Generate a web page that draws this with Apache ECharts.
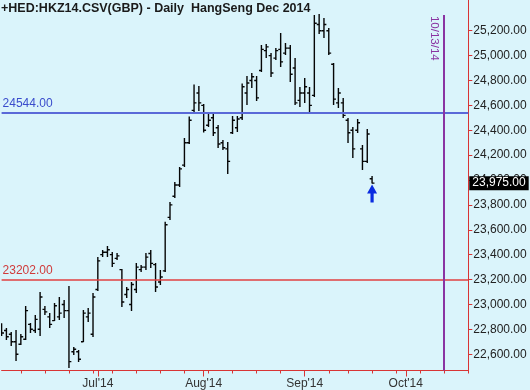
<!DOCTYPE html>
<html>
<head>
<meta charset="utf-8">
<script src="https://cdn.jsdelivr.net/npm/echarts@6.0.0/dist/echarts.min.js"></script>
<style>
  html, body { margin: 0; padding: 0; background: #daf4fb; }
  #c { width: 530px; height: 390px; }
</style>
</head>
<body>
<div id="c"></div>
<script>
// ---- data ----
const titleText = "+HED:HKZ14.CSV(GBP) - Daily  HangSeng Dec 2014";
const dates = [
  '2014-06-03','2014-06-04','2014-06-05','2014-06-06',
  '2014-06-09','2014-06-10','2014-06-11','2014-06-12','2014-06-13',
  '2014-06-16','2014-06-17','2014-06-18','2014-06-19','2014-06-20',
  '2014-06-23','2014-06-24','2014-06-25','2014-06-26','2014-06-27',
  '2014-06-30',
  '2014-07-02','2014-07-03','2014-07-04',
  '2014-07-07','2014-07-08','2014-07-09','2014-07-10','2014-07-11',
  '2014-07-14','2014-07-15','2014-07-16','2014-07-17','2014-07-18',
  '2014-07-21','2014-07-22','2014-07-23','2014-07-24','2014-07-25',
  '2014-07-28','2014-07-29','2014-07-30','2014-07-31',
  '2014-08-01',
  '2014-08-04','2014-08-05','2014-08-06','2014-08-07','2014-08-08',
  '2014-08-11','2014-08-12','2014-08-13','2014-08-14','2014-08-15',
  '2014-08-18','2014-08-19','2014-08-20','2014-08-21','2014-08-22',
  '2014-08-25','2014-08-26','2014-08-27','2014-08-28','2014-08-29',
  '2014-09-01','2014-09-02','2014-09-03','2014-09-04','2014-09-05',
  '2014-09-08','2014-09-10','2014-09-11','2014-09-12',
  '2014-09-15','2014-09-16','2014-09-17','2014-09-18','2014-09-19',
  '2014-09-22','2014-09-23','2014-09-24','2014-09-25','2014-09-26',
  '2014-09-29','2014-09-30',
  '2014-10-01','2014-10-02','2014-10-03',
  '2014-10-06','2014-10-07','2014-10-08','2014-10-09','2014-10-10',
  '2014-10-13','2014-10-14','2014-10-15','2014-10-16','2014-10-17',
  '2014-10-20'
];
const opens = [22820,22790,22760,22700,22680,22720,22840,22790,22800,22960,
  22900,22870,22900,23000,22950,22620,22620,22700,22900,22760,
  23120,23400,23420,23400,23370,23280,23080,23000,23120,23280,
  23300,23410,23320,23180,23270,23700,23870,23960,24120,24300,
  24560,24700,24600,24440,24500,24420,24300,24250,24380,24420,
  24500,24700,24800,24800,24880,25040,25000,24980,25050,25020,
  25060,24900,24640,24700,24700,24680,25250,25200,25200,24930,
  24620,24620,24480,24400,24400,24250,24150,24010];
const highs = [22848,22811,22778,22795,22762,22987,22851,22915,23100,22987,
  22931,23012,23060,23036,23148,22658,22634,22955,22971,23092,
  23381,23438,23470,23422,23414,23285,23140,23180,23333,23317,
  23414,23438,23333,23277,23665,23824,23984,24105,24338,24511,
  24768,24756,24611,24547,24547,24443,24322,24306,24515,24515,
  24776,24836,24861,24836,25086,25094,25021,25062,25182,25102,
  25086,24981,24748,24820,24748,25327,25335,25303,25222,24941,
  24740,24660,24499,24426,24491,24282,24410,24033];
const lows = [22746,22714,22666,22545,22674,22714,22770,22770,22746,22915,
  22811,22867,22875,22891,22489,22594,22537,22698,22859,22738,
  23108,23381,23381,23301,23357,22979,23052,22947,23092,23261,
  23277,23293,23100,23156,23261,23679,23856,23944,24105,24290,
  24539,24555,24381,24426,24354,24258,24242,24049,24370,24386,
  24483,24603,24740,24635,24869,24981,24828,24965,24909,25005,
  24788,24603,24587,24619,24547,24668,25174,25142,25005,24603,
  24579,24499,24298,24177,24378,24081,24137,23972];
const closes = [22770,22740,22700,22600,22740,22950,22800,22880,23060,22940,
  22840,22990,22930,22950,22540,22640,22560,22930,22930,23060,
  23350,23420,23440,23330,23390,23020,23120,23160,23300,23300,
  23380,23330,23140,23220,23640,23800,23960,24090,24300,24480,
  24620,24620,24400,24480,24380,24290,24260,24150,24480,24490,
  24750,24780,24830,24660,25050,25070,24860,25040,24950,25060,
  24850,24620,24700,24750,24600,25260,25200,25250,25020,24650,
  24700,24520,24380,24250,24460,24150,24370,23975];
const levelBlue = 24544;
const levelRed = 23202;
const markDate = '2014-10-13';
const markDateLabel = '10/13/14';
const yTicks = [22600,22800,23000,23200,23400,23600,23800,24000,24200,24400,24600,24800,25000,25200];
const monthStarts = ['2014-07-02','2014-08-01','2014-09-01','2014-10-01'];
const monthLabels = ["Jul'14","Aug'14","Sep'14","Oct'14"];

// ---- helpers ----
const FONT = '"Liberation Sans", Arial, sans-serif';
function fmt(v) {
  const s = Number(v).toFixed(2);
  const parts = s.split('.');
  return parts[0].replace(/\B(?=(\d{3})+(?!\d))/g, ',') + '.' + parts[1];
}
function isMonday(d) { return new Date(d + 'T00:00:00Z').getUTCDay() === 1; }
function isMonthStart(d) { return monthStarts.indexOf(d) >= 0; }

const yMin = 22469, yMax = 25447;
const last = closes.length - 1;
const red = '#d83434';
const blue = '#5a69d8';
const purple = '#8a34a2';

const ohlc = opens.map((o, i) => [i, o, highs[i], lows[i], closes[i]]);

const chart = echarts.init(document.getElementById('c'), null, {renderer: 'canvas'});
chart.setOption({
  backgroundColor: '#daf4fb',
  animation: false,
  title: {
    text: titleText, left: 1, top: 2, padding: 0,
    textStyle: {fontFamily: FONT, fontSize: 12.5, fontWeight: 'bold', color: '#1a1a1a'}
  },
  grid: {left: 1.6, right: 61.7, top: 0, bottom: 19.5, containLabel: false, outerBoundsMode: 'none'},
  xAxis: [
    {
      type: 'category', data: dates, boundaryGap: false, position: 'bottom',
      axisLine: {show: true, lineStyle: {color: red, width: 1}},
      axisTick: {show: true, interval: (i, v) => isMonday(v), length: 3, lineStyle: {color: red}},
      axisLabel: {show: false}, splitLine: {show: false}
    },
    {
      type: 'category', data: dates, boundaryGap: false, position: 'bottom',
      axisLine: {show: false},
      axisTick: {show: true, interval: (i, v) => isMonthStart(v), length: 6, lineStyle: {color: red}},
      axisLabel: {
        show: true, interval: (i, v) => isMonthStart(v),
        formatter: v => monthLabels[monthStarts.indexOf(v)] || '',
        color: '#333', fontSize: 12, fontFamily: FONT, margin: 7
      },
      splitLine: {show: false}
    }
  ],
  yAxis: {
    type: 'value', position: 'right', min: yMin, max: yMax, scale: true,
    axisLine: {show: true, lineStyle: {color: red, width: 1}},
    axisTick: {show: true, inside: false, length: 4, customValues: yTicks, lineStyle: {color: red}},
    axisLabel: {show: true, customValues: yTicks, formatter: v => fmt(v), margin: 5, color: '#222', fontSize: 12, fontFamily: FONT},
    splitLine: {show: false}
  },
  series: [{
    type: 'custom',
    silent: true,
    clip: true,
    encode: {x: 0, y: [1, 2, 3, 4]},
    data: ohlc,
    renderItem: function (params, api) {
      const i = api.value(0);
      const pO = api.coord([i, api.value(1)]);
      const pH = api.coord([i, api.value(2)]);
      const pL = api.coord([i, api.value(3)]);
      const pC = api.coord([i, api.value(4)]);
      const x = pH[0];
      const st = {stroke: '#050505', lineWidth: 1.4};
      return {
        type: 'group',
        children: [
          {type: 'line', shape: {x1: x, y1: pH[1], x2: x, y2: pL[1]}, style: st},
          {type: 'line', shape: {x1: x - 2.4, y1: pO[1], x2: x, y2: pO[1]}, style: st},
          {type: 'line', shape: {x1: x, y1: pC[1], x2: x + 2.4, y2: pC[1]}, style: st}
        ]
      };
    },
    markLine: {
      silent: true, symbol: 'none', animation: false,
      data: [
        {
          yAxis: levelBlue,
          lineStyle: {color: blue, width: 2, type: 'solid'},
          label: {show: true, position: 'insideStartTop', formatter: levelBlue.toFixed(2), color: '#3a4ccc', fontSize: 12, fontFamily: FONT, distance: [1, 3]}
        },
        {
          yAxis: levelRed,
          lineStyle: {color: '#e04040', width: 1.5, type: 'solid'},
          label: {show: true, position: 'insideStartTop', formatter: levelRed.toFixed(2), color: '#d03a3a', fontSize: 12, fontFamily: FONT, distance: [1, 3]}
        },
        {
          yAxis: closes[last],
          lineStyle: {color: 'rgba(0,0,0,0)', width: 1, type: 'solid'},
          label: {show: true, position: 'end', formatter: fmt(closes[last]), color: '#ffffff', backgroundColor: '#000000', padding: [1, 3, 0, 3], lineHeight: 13, distance: 1, fontSize: 12, fontFamily: FONT}
        },
        [
          {xAxis: markDate, yAxis: 25327, lineStyle: {color: purple, width: 2, type: 'solid'},
           label: {show: true, position: 'insideStartBottom', formatter: markDateLabel, color: purple, fontSize: 11.5, fontFamily: FONT, distance: [1, 4]}},
          {xAxis: markDate, yAxis: yMin}
        ]
      ]
    },
    markPoint: {
      silent: true, animation: false,
      data: [{
        coord: [last, lows[last]],
        symbol: 'path://M5,0 L10,9 L6.6,9 L6.6,18 L3.4,18 L3.4,9 L0,9 Z',
        symbolSize: [10, 18], symbolOffset: [0, 10], symbolKeepAspect: false,
        itemStyle: {color: '#0a2be0'}, label: {show: false}
      }]
    }
  }]
});
</script>
</body>
</html>
